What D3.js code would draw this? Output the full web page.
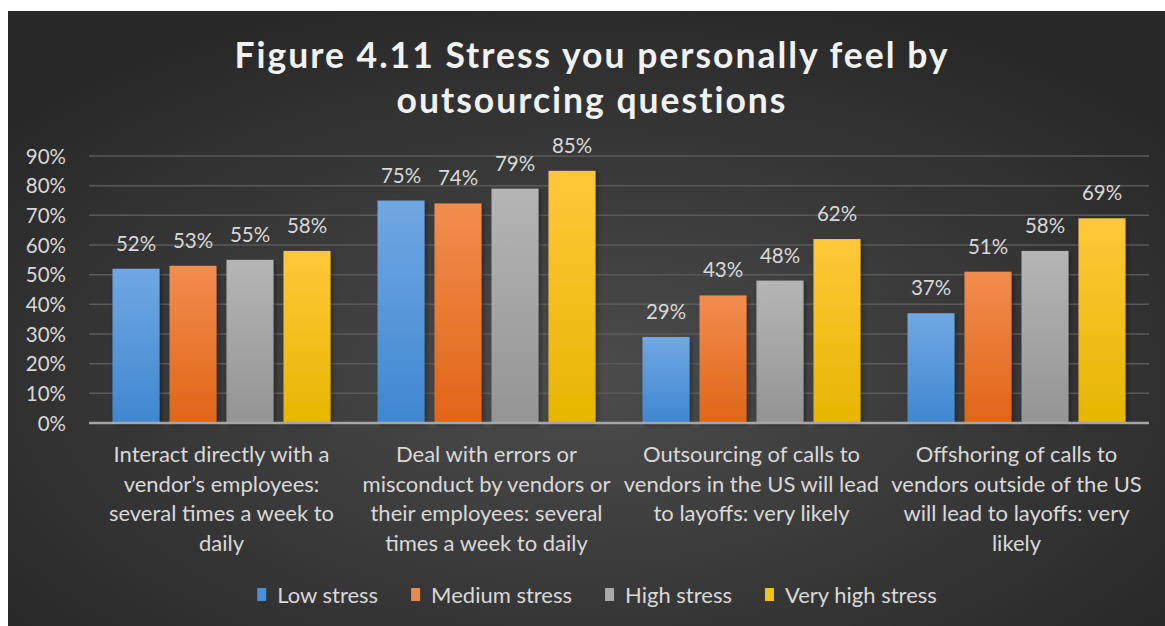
<!DOCTYPE html>
<html><head><meta charset="utf-8">
<script src="https://cdn.jsdelivr.net/npm/d3@7"></script>
<style>html,body{margin:0;padding:0;background:#fff;}svg{display:block;}</style>
</head><body>
<svg id="chart" width="1165" height="626"></svg>
<script>
const titleLines = ["Figure 4.11 Stress you personally feel by", "outsourcing questions"];
const categories = ["c1", "c2", "c3", "c4"];
const categoryLabels = [
  ["Interact directly with a", "vendor’s employees:", "several times a week to", "daily"],
  ["Deal with errors or", "misconduct by vendors or", "their employees: several", "times a week to daily"],
  ["Outsourcing of calls to", "vendors in the US will lead", "to layoffs: very likely"],
  ["Offshoring of calls to", "vendors outside of the US", "will lead to layoffs: very", "likely"]
];
const seriesNames = ["Low stress", "Medium stress", "High stress", "Very high stress"];
const lowStress = [52, 75, 29, 37];
const mediumStress = [53, 74, 43, 51];
const highStress = [55, 79, 48, 58];
const veryHighStress = [58, 85, 62, 69];
const yTicks = [0, 10, 20, 30, 40, 50, 60, 70, 80, 90];

const seriesValues = [lowStress, mediumStress, highStress, veryHighStress];
const gradTop = ["#70a8e2", "#f28d4f", "#b5b5b5", "#ffc83a"];
const gradBot = ["#3f87d0", "#e06516", "#949494", "#e6b600"];
const legendColors = ["#4a90d8", "#e88a52", "#a8a8a8", "#f4c21c"];

const svg = d3.select("#chart");
const defs = svg.append("defs");
const rg = defs.append("radialGradient").attr("id", "bg").attr("cx", "50%").attr("cy", "60%").attr("r", "65%");
rg.append("stop").attr("offset", "0%").attr("stop-color", "#4c4c4c");
rg.append("stop").attr("offset", "100%").attr("stop-color", "#282828");
seriesNames.forEach((s, i) => {
  const lg = defs.append("linearGradient").attr("id", "g" + i).attr("x1", 0).attr("y1", 0).attr("x2", 0).attr("y2", 1);
  lg.append("stop").attr("offset", "0%").attr("stop-color", gradTop[i]);
  lg.append("stop").attr("offset", "100%").attr("stop-color", gradBot[i]);
});
const f = defs.append("filter").attr("id", "sh").attr("x", "-20%").attr("y", "-20%").attr("width", "150%").attr("height", "150%");
f.append("feDropShadow").attr("dx", 2).attr("dy", 2).attr("stdDeviation", 2).attr("flood-color", "#000").attr("flood-opacity", 0.35);

svg.append("rect").attr("x", 0).attr("y", 0).attr("width", 1165).attr("height", 626).attr("fill", "#ffffff");
svg.append("rect").attr("x", 8).attr("y", 11).attr("width", 1157).attr("height", 615).attr("fill", "url(#bg)");

const FONT = "Lato, 'Open Sans', sans-serif";
const TXT = "#d9d9d9";

// title
svg.append("g").selectAll("text").data(titleLines).join("text")
  .attr("x", 592).attr("y", (d, i) => 68 + i * 45)
  .attr("text-anchor", "middle")
  .attr("font-family", FONT).attr("font-weight", 700).attr("font-size", 35.5)
  .attr("letter-spacing", 2)
  .attr("fill", "#f2f2f2")
  .text(d => d);

const x0 = d3.scaleBand().domain(categories).range([89, 1149]).paddingInner(0).paddingOuter(0);
const x1 = d3.scaleBand().domain(seriesNames).range([23.5, x0.bandwidth() - 23.5]).paddingInner(0.175).paddingOuter(0);
const y = d3.scaleLinear().domain([0, 90]).range([423, 156]);

// gridlines
svg.append("g").selectAll("line").data(yTicks.filter(t => t > 0)).join("line")
  .attr("x1", 89).attr("x2", 1149).attr("y1", d => y(d)).attr("y2", d => y(d))
  .attr("stroke", "#5a5a5a").attr("stroke-width", 1.5);

// y axis labels
const yAxis = d3.axisLeft(y).tickValues(yTicks).tickFormat(d => d + "%").tickSize(0).tickPadding(0);
const yg = svg.append("g").attr("transform", "translate(66,0)").call(yAxis);
yg.select(".domain").remove();
yg.selectAll("text").attr("font-family", FONT).attr("font-size", 20.5).attr("fill", TXT).attr("dy", "0.35em");

// bars
const groups = svg.append("g").selectAll("g").data(categories).join("g")
  .attr("transform", d => `translate(${x0(d)},0)`);
groups.selectAll("rect").data((c, ci) => seriesNames.map((s, si) => ({s, si, v: seriesValues[si][ci]}))).join("rect")
  .attr("x", d => x1(d.s)).attr("width", x1.bandwidth())
  .attr("y", d => y(d.v)).attr("height", d => y(0) - y(d.v))
  .attr("fill", d => `url(#g${d.si})`)
  .attr("filter", "url(#sh)");
groups.selectAll("text").data((c, ci) => seriesNames.map((s, si) => ({s, si, v: seriesValues[si][ci]}))).join("text")
  .attr("x", d => x1(d.s) + x1.bandwidth() / 2).attr("y", d => y(d.v) - 18)
  .attr("text-anchor", "middle")
  .attr("font-family", FONT).attr("font-size", 20.5).attr("fill", TXT)
  .text(d => d.v + "%");

// baseline
svg.append("line").attr("x1", 89).attr("x2", 1149).attr("y1", y(0)).attr("y2", y(0))
  .attr("stroke", "#a6a6a6").attr("stroke-width", 2.5);

// x axis category labels
const xAxis = d3.axisBottom(x0).tickSize(0).tickFormat(() => "");
const xg = svg.append("g").attr("transform", `translate(0,${y(0)})`).call(xAxis);
xg.select(".domain").remove();
xg.selectAll(".tick").each(function (d, i) {
  const t = d3.select(this).select("text").text(null)
    .attr("font-family", FONT).attr("font-size", 22).attr("fill", TXT).attr("y", 0).attr("dy", null);
  categoryLabels[i].forEach((line, li) => {
    t.append("tspan").attr("x", 0).attr("y", 39 + li * 29.5).text(line);
  });
});

// legend
const lg = svg.append("g");
const items = lg.selectAll("g").data(seriesNames).join("g");
items.append("rect").attr("width", 9).attr("height", 13).attr("y", -7)
  .attr("fill", (d, i) => legendColors[i]);
items.append("text").attr("x", 20).attr("y", 0).attr("dy", "0.35em")
  .attr("font-family", FONT).attr("font-size", 22).attr("fill", TXT).text(d => d);
let cx = 0;
const pos = [];
items.each(function () {
  const w = d3.select(this).select("text").node().getComputedTextLength();
  pos.push(cx);
  cx += 20 + w + 33;
});
const total = cx - 33;
const startX = 597 - total / 2;
items.attr("transform", (d, i) => `translate(${startX + pos[i]},595)`);
</script>
</body></html>
